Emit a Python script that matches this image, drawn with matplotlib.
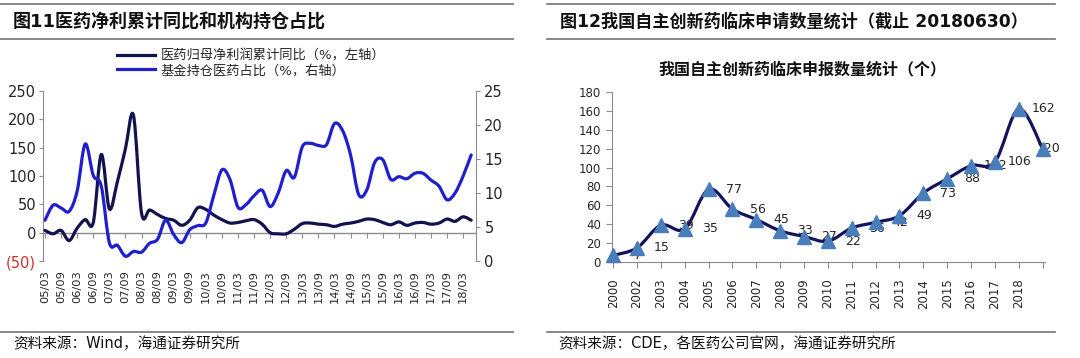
import numpy as np
import matplotlib
matplotlib.use("Agg")
import matplotlib.pyplot as plt
from matplotlib.path import Path
from matplotlib.patches import PathPatch
from matplotlib.lines import Line2D

plt.rcParams['font.family'] = ['DejaVu Sans', 'Noto Sans CJK SC']

# fig 11: quarterly points 05/03 .. 18/06
profit_yoy = [4, -2, 4, -14, 8, 23, 18, 138, 42, 90, 148, 207, 35, 40, 32, 25, 22, 13, 22, 44,
              41, 31, 23, 17, 18, 21, 23, 15, 0, -2, -2, 6, 16, 17, 15, 14, 11, 15, 17, 20,
              24, 23, 18, 14, 19, 13, 17, 18, 15, 17, 24, 20, 28, 22]
fund_share = [6.0, 8.2, 7.8, 7.3, 10.3, 17.2, 12.6, 11.0, 2.7, 2.3, 0.7, 1.4, 1.3, 2.6, 3.2, 6.0, 3.9, 2.7, 4.6, 5.2,
              5.6, 9.7, 13.4, 12.0, 7.9, 8.3, 9.6, 10.4, 8.0, 10.0, 13.3, 12.3, 16.8, 17.3, 17.0, 17.1, 20.2, 19.2, 15.6, 9.8,
              10.4, 14.5, 14.9, 12.0, 12.4, 12.1, 12.9, 12.9, 11.9, 11.0, 9.0, 10.0, 12.5, 15.6]
half_year_labels = ['05/03', '05/09', '06/03', '06/09', '07/03', '07/09', '08/03', '08/09', '09/03',
                    '09/09', '10/03', '10/09', '11/03', '11/09', '12/03', '12/09', '13/03', '13/09',
                    '14/03', '14/09', '15/03', '15/09', '16/03', '16/09', '17/03', '17/09', '18/03']

# fig 12
years = ['2000', '2002', '2003', '2004', '2005', '2006', '2007', '2008', '2009', '2010',
         '2011', '2012', '2013', '2014', '2015', '2016', '2017', '2018', '']
applications = [7, 15, 39, 35, 77, 56, 45, 33, 27, 22, 36, 42, 49, 73, 88, 102, 106, 162, 120]

GRAY = '#8c8c8c'
TXT = '#262626'


def smooth_path(xs, ys):
    # excel-like smoothed line: cubic bezier through every point
    pts = np.column_stack([xs, ys]).astype(float)
    n = len(pts)
    verts = [pts[0]]
    codes = [Path.MOVETO]
    for i in range(n - 1):
        p0 = pts[max(i - 1, 0)]
        p1 = pts[i]
        p2 = pts[i + 1]
        p3 = pts[min(i + 2, n - 1)]
        verts += [p1 + (p2 - p0) / 6, p2 - (p3 - p1) / 6, p2]
        codes += [Path.CURVE4] * 3
    return Path(verts, codes)


fig = plt.figure(figsize=(10.8, 3.58), dpi=100)
W, H = 1080, 358


def fx(px):
    return px / W


def fy(py):
    return 1 - py / H


# header / footer rules
for x0, x1 in [(0, 513), (547, 1055)]:
    for yy in [4, 39, 332]:
        fig.add_artist(Line2D([fx(x0), fx(x1)], [fy(yy), fy(yy)], color='#7f7f7f', lw=1.3,
                              transform=fig.transFigure))

fig.text(fx(13), fy(22), '图11医药净利累计同比和机构持仓占比', fontsize=13, fontweight='bold',
         va='center', color='#111111')
fig.text(fx(560), fy(22), '图12我国自主创新药临床申请数量统计（截止 20180630）', fontsize=12.3,
         fontweight='bold', va='center', color='#111111')
fig.text(fx(13), fy(344), '资料来源：Wind，海通证券研究所', fontsize=10.5, va='center', color='#111111')
fig.text(fx(558), fy(344), '资料来源：CDE，各医药公司官网，海通证券研究所', fontsize=10.5, va='center',
         color='#111111')

# ---- left chart ----
ax = fig.add_axes([fx(43), fy(261), fx(476) - fx(43), (261 - 91) / H])
ax2 = ax.twinx()
q = np.arange(len(profit_yoy))

dark = '#12124f'
blue = '#1f1fcc'
ax.add_patch(PathPatch(smooth_path(q, profit_yoy), facecolor='none', edgecolor=dark, lw=2.3,
                       capstyle='round', joinstyle='round', zorder=3))
ax2.add_patch(PathPatch(smooth_path(q, fund_share), facecolor='none', edgecolor=blue, lw=2.3,
                        capstyle='round', joinstyle='round', zorder=3))

ax.set_xlim(-0.25, 53.6)
ax.set_ylim(-50, 250)
ax2.set_ylim(0, 25)
ax.set_yticks(range(-50, 251, 50))
ax.set_yticklabels(['(50)', '0', '50', '100', '150', '200', '250'])
ax2.set_yticks(range(0, 26, 5))

lab_pos = np.arange(0, len(q), 2)[:len(half_year_labels)]
ax.set_xticks(lab_pos)
ax.set_xticklabels(half_year_labels, rotation=90)
ax.tick_params(axis='x', length=0, pad=6.5, labelsize=8.2, colors=TXT)
ax.tick_params(axis='y', length=3, width=0.8, color=GRAY, pad=2, labelsize=10.5, labelcolor=TXT)
ax2.tick_params(axis='y', length=3, width=0.8, color=GRAY, pad=3, labelsize=10.5, labelcolor=TXT)
ax.get_yticklabels()[0].set_color('#d03030')

# category axis drawn on the zero line
sec = ax.secondary_xaxis(50 / 300)
sec.set_xticks(lab_pos)
sec.set_xticklabels([])
sec.tick_params(axis='x', length=3.5, width=0.8, color=GRAY)
sec.spines['bottom'].set_color(GRAY)
sec.spines['bottom'].set_linewidth(1)

for a in (ax, ax2):
    a.spines['top'].set_visible(False)
    a.spines['bottom'].set_visible(False)
    a.spines['left'].set_color(GRAY)
    a.spines['right'].set_color(GRAY)
ax.spines['right'].set_visible(False)
ax2.spines['left'].set_visible(False)

handles = [Line2D([], [], color=dark, lw=2.3), Line2D([], [], color=blue, lw=2.3)]
fig.legend(handles, ['医药归母净利润累计同比（%，左轴）', '基金持仓医药占比（%，右轴）'],
           loc='upper left', bbox_to_anchor=(fx(117), fy(49)), frameon=False, fontsize=9.5,
           handlelength=2.9, handletextpad=0.4, labelspacing=0.15, borderpad=0, borderaxespad=0,
           labelcolor=TXT)

# ---- right chart ----
bx = fig.add_axes([fx(612), fy(262), fx(1045) - fx(612), (262 - 92) / H])
x = np.arange(len(applications))
bx.add_patch(PathPatch(smooth_path(x, applications), facecolor='none', edgecolor='#14145e', lw=2.3,
                       joinstyle='round', zorder=3))
bx.plot(x, applications, ls='none', marker='^', ms=9.5, color='#4a7ebb', zorder=4, clip_on=False)
for i, v in enumerate(applications):
    dx = 4 if i == len(applications) - 1 else 18
    bx.annotate(str(v), (i, v), xytext=(dx, 0), textcoords='offset points', ha='center', va='center',
                fontsize=9, color=TXT)

bx.set_xlim(-0.05, 18.1)
bx.set_ylim(0, 180)
bx.set_yticks(range(0, 181, 20))
bx.set_xticks(x)
bx.set_xticklabels(years, rotation=90)
bx.tick_params(axis='x', length=4, width=0.8, color=GRAY, pad=8, labelsize=8.5, labelcolor=TXT)
bx.tick_params(axis='y', length=4, width=0.8, color=GRAY, pad=4, labelsize=8.5, labelcolor=TXT)
for s in ['top', 'right']:
    bx.spines[s].set_visible(False)
for s in ['left', 'bottom']:
    bx.spines[s].set_color(GRAY)

fig.text(fx(802), fy(70), '我国自主创新药临床申报数量统计（个）', fontsize=11.5, fontweight='bold',
         ha='center', va='center', color='#111111')

fig.savefig('out.png', dpi=100)
